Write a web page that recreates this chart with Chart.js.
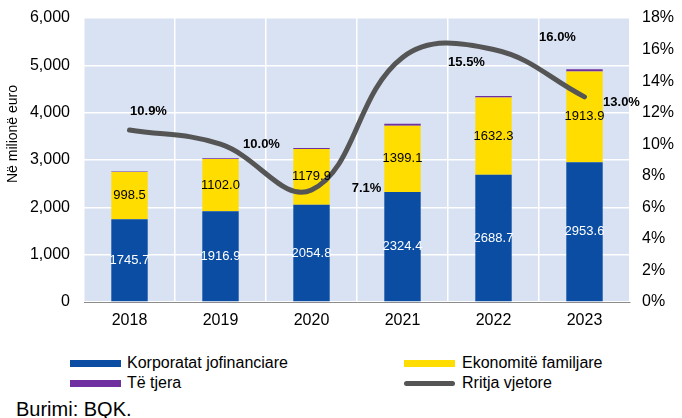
<!DOCTYPE html>
<html>
<head>
<meta charset="utf-8">
<script src="https://cdn.jsdelivr.net/npm/chart.js@4/dist/chart.umd.min.js"></script>
<style>
  body { margin: 0; background: #fff; width: 682px; height: 418px; overflow: hidden; position: relative;
         font-family: "Liberation Sans", Arial, sans-serif; }
  #wrap { position: absolute; left: 0; top: 0; width: 682px; height: 340px; }
  .lg { position: absolute; font-size: 16px; color: #000; line-height: 18px; white-space: nowrap; }
  .sw { position: absolute; width: 51px; }
  #src { position: absolute; left: 16px; top: 398px; font-size: 20px; line-height: 22px; color: #000; }
</style>
</head>
<body>
<div id="wrap"><canvas id="chart" width="682" height="340"></canvas></div>
<div id="legend"></div>
<div id="src">Burimi: BQK.</div>
<script>
const years = ["2018", "2019", "2020", "2021", "2022", "2023"];
const korporatat = [1745.7, 1916.9, 2054.8, 2324.4, 2688.7, 2953.6];
const ekonomite = [998.5, 1102.0, 1179.9, 1399.1, 1632.3, 1913.9];
const teTjera = [15, 20, 20, 40, 30, 50];
const rritja = [10.9, 10.0, 7.1, 15.5, 16.0, 13.0];

// label nudges for the growth line (px)
const lblDx = [19, 41, 55, 64, 64, 37];
const lblDy = [-19, 0, -2, 5, -12, 6];

const FONT = "'Liberation Sans', Arial, sans-serif";

const plotBg = {
  id: "plotBg",
  beforeDraw(chart) {
    const a = chart.chartArea, ctx = chart.ctx;
    ctx.save();
    ctx.fillStyle = "#D9E2F3";
    ctx.fillRect(a.left, a.top, a.right - a.left, a.bottom - a.top);
    ctx.restore();
  }
};

const valueLabels = {
  id: "valueLabels",
  afterDatasetsDraw(chart) {
    const ctx = chart.ctx;
    ctx.save();
    ctx.textAlign = "center";
    ctx.textBaseline = "middle";
    ctx.font = "13px " + FONT;
    [0, 1].forEach(di => {
      const meta = chart.getDatasetMeta(di);
      ctx.fillStyle = di === 0 ? "#ffffff" : "#000000";
      meta.data.forEach((bar, i) => {
        const c = bar.getCenterPoint();
        ctx.fillText(chart.data.datasets[di].data[i].toFixed(1), c.x, c.y);
      });
    });
    ctx.font = "bold 13px " + FONT;
    ctx.fillStyle = "#000";
    chart.getDatasetMeta(3).data.forEach((pt, i) => {
      ctx.fillText(rritja[i].toFixed(1) + "%", pt.x + lblDx[i], pt.y + lblDy[i]);
    });
    // y-axis title
    ctx.translate(13, 134);
    ctx.rotate(-Math.PI / 2);
    ctx.font = "14px " + FONT;
    ctx.fillText("Në milionë euro", 0, 0);
    ctx.restore();
  }
};

const datasets = [
  { type: "bar", label: "Korporatat jofinanciare", data: korporatat, backgroundColor: "#0A4DA2", yAxisID: "y", order: 2 },
  { type: "bar", label: "Ekonomitë familjare", data: ekonomite, backgroundColor: "#FFDD00", yAxisID: "y", order: 2 },
  { type: "bar", label: "Të tjera", data: teTjera, backgroundColor: "#7030A0", yAxisID: "y", order: 2 },
  { type: "line", label: "Rritja vjetore", data: rritja, borderColor: "#555555", backgroundColor: "#555555",
    borderWidth: 5, borderCapStyle: "round", tension: 0.4, pointRadius: 0, yAxisID: "y1", order: 0 }
];

const fitY = w => s => { s.width = w; s.paddingTop = 0; s.paddingBottom = 0; };

const chart = new Chart(document.getElementById("chart").getContext("2d"), {
  data: { labels: years, datasets: datasets },
  plugins: [plotBg, valueLabels],
  options: {
    responsive: false,
    animation: false,
    layout: { padding: { top: 18, left: 0, right: 0, bottom: 0 } },
    datasets: { bar: { categoryPercentage: 1, barPercentage: 0.4 } },
    plugins: { legend: { display: false }, tooltip: { enabled: false } },
    scales: {
      x: {
        stacked: true,
        grid: { color: "#ffffff", lineWidth: 1.5, drawTicks: false, offset: true },
        border: { display: true, color: "#8C8C8C", width: 1 },
        ticks: { color: "#000", font: { family: FONT, size: 16 }, padding: 9 },
        afterFit(s) { s.height = 38; s.paddingLeft = 0; s.paddingRight = 0; }
      },
      y: {
        stacked: true, min: 0, max: 6000,
        position: "left",
        grid: { color: "#ffffff", lineWidth: 1.5, drawTicks: false },
        border: { display: false },
        ticks: { stepSize: 1000, color: "#000", font: { family: FONT, size: 16 }, padding: 14,
                 callback: v => v.toLocaleString("en-US") },
        afterFit: fitY(84)
      },
      y1: {
        stacked: false, min: 0, max: 18,
        position: "right",
        grid: { display: false, drawTicks: false },
        border: { display: false },
        ticks: { stepSize: 2, color: "#000", font: { family: FONT, size: 16 }, padding: 12,
                 callback: v => v + "%" },
        afterFit: fitY(52)
      }
    }
  }
});

// legend below the chart, built from the datasets
const legendPos = [
  { sx: 70, tx: 127, y: 363 },
  { sx: 404, tx: 462, y: 363 },
  { sx: 70, tx: 127, y: 383 },
  { sx: 404, tx: 462, y: 383 }
];
const lg = document.getElementById("legend");
datasets.forEach((ds, i) => {
  const p = legendPos[i];
  const sw = document.createElement("div");
  sw.className = "sw";
  const isLine = ds.type === "line";
  sw.style.left = p.sx + "px";
  sw.style.height = isLine ? "5px" : "7px";
  sw.style.top = (p.y - (isLine ? 2.5 : 3.5)) + "px";
  sw.style.background = isLine ? ds.borderColor : ds.backgroundColor;
  if (isLine) sw.style.borderRadius = "3px";
  lg.appendChild(sw);
  const t = document.createElement("div");
  t.className = "lg";
  t.style.left = p.tx + "px";
  t.style.top = (p.y - 9) + "px";
  t.textContent = ds.label;
  lg.appendChild(t);
});
</script>
</body>
</html>
